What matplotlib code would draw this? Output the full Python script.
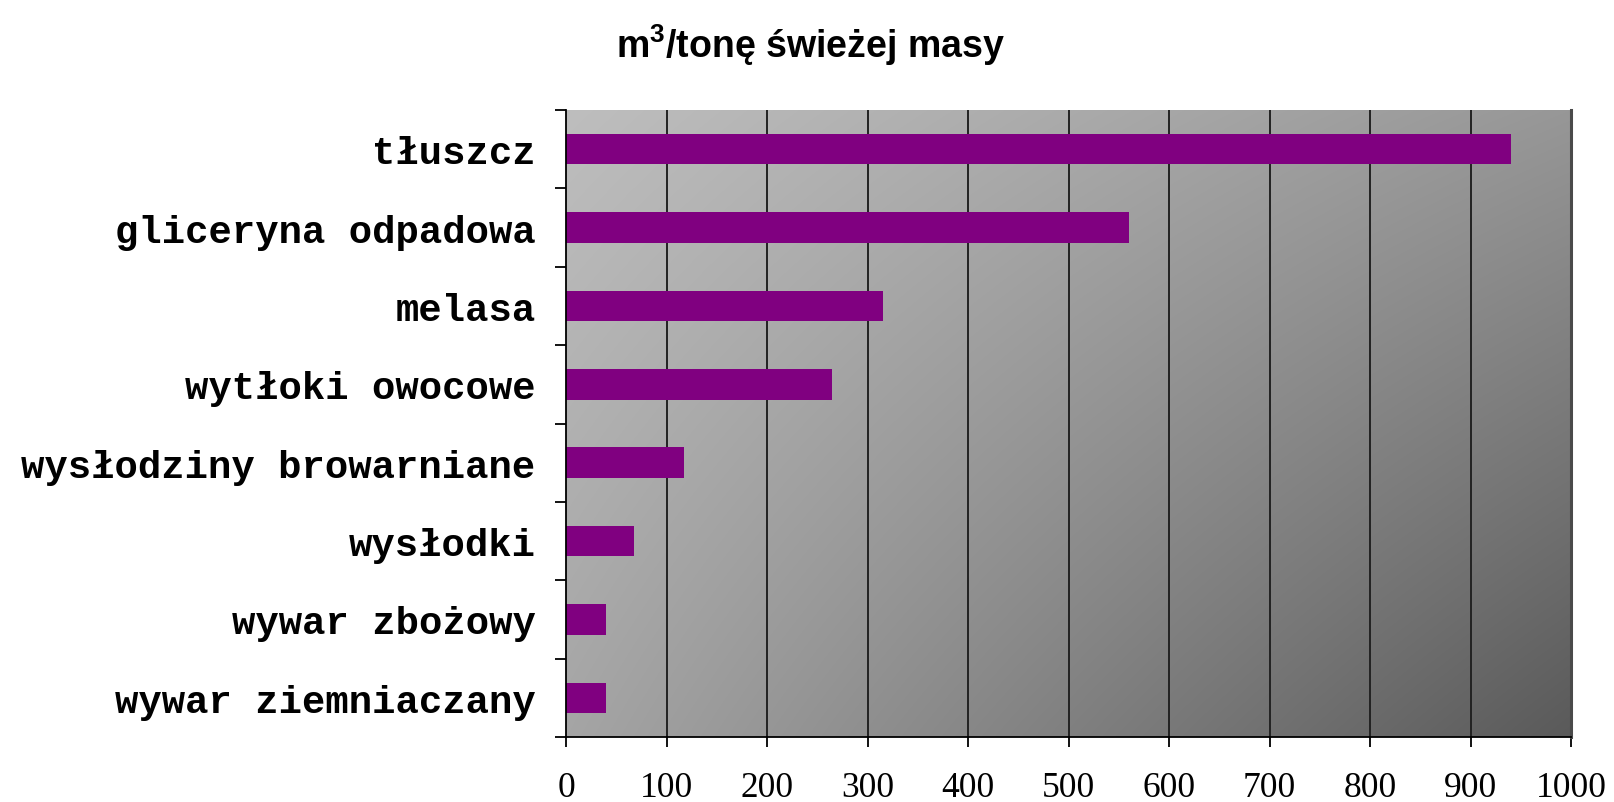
import numpy as np
import matplotlib
matplotlib.use("Agg")
import matplotlib.pyplot as plt

# Biogas yield per tonne of fresh mass
categories = [
    "tłuszcz",
    "gliceryna odpadowa",
    "melasa",
    "wytłoki owocowe",
    "wysłodziny browarniane",
    "wysłodki",
    "wywar zbożowy",
    "wywar ziemniaczany",
]
values = [940, 560, 315, 265, 117, 68, 40, 40]
x_ticks = [0, 100, 200, 300, 400, 500, 600, 700, 800, 900, 1000]
title = r"m$^{\mathbf{3}}$/tonę świeżej masy"

plt.rcParams["mathtext.fontset"] = "custom"
plt.rcParams["mathtext.bf"] = "Liberation Sans:bold"
plt.rcParams["mathtext.rm"] = "Liberation Sans:bold"

fig = plt.figure(figsize=(16.15, 8.03), dpi=100)
ax = fig.add_axes([0.3505, 0.0809, 0.6223, 0.7809])

n = len(categories)
ax.set_xlim(0, 1000)
ax.set_ylim(n - 0.5, -0.5)

# diagonal grey gradient backdrop
gx = np.linspace(0, 1, 400)
gy = np.linspace(0, 1, 250)
X, Y = np.meshgrid(gx, gy)
V = (190 - 39 * X - 25 * Y - 36 * X * Y) / 255.0
ax.imshow(np.dstack([V, V, V]), extent=(0, 1000, n - 0.5, -0.5),
          aspect="auto", zorder=0, interpolation="bilinear")

# vertical grid lines
for t in x_ticks[1:-1]:
    ax.axvline(t, color="#222222", lw=1.4, zorder=1)

ypos = np.arange(n)
ax.barh(ypos, values, height=0.39, color="#800080", zorder=2)

# spines
ax.spines["top"].set_visible(False)
ax.spines["left"].set_color("black")
ax.spines["left"].set_linewidth(1.3)
ax.spines["bottom"].set_color("black")
ax.spines["bottom"].set_linewidth(1.3)
ax.spines["right"].set_color("#4a4a4a")
ax.spines["right"].set_linewidth(2.2)

# y axis: labels at centres, ticks at category boundaries
ax.set_yticks(ypos)
ax.set_yticklabels(categories, fontfamily="Liberation Mono",
                   fontweight="bold", fontsize=28)
ax.tick_params(axis="y", which="major", length=0, pad=22)
ax.set_yticks(np.arange(n + 1) - 0.5, minor=True)
ax.tick_params(axis="y", which="minor", length=8, width=1.3,
               color="black", direction="out")

# x axis
ax.set_xticks(x_ticks)
ax.set_xticklabels([str(t) for t in x_ticks], fontfamily="Liberation Serif",
                   fontsize=25.5)
ax.tick_params(axis="x", which="major", length=7.5, width=1.3,
               color="black", direction="out", pad=17)

fig.text(0.502, 0.944, title, ha="center", va="center",
         fontfamily="Liberation Sans", fontweight="bold", fontsize=27)

fig.savefig("out.png", dpi=100)
